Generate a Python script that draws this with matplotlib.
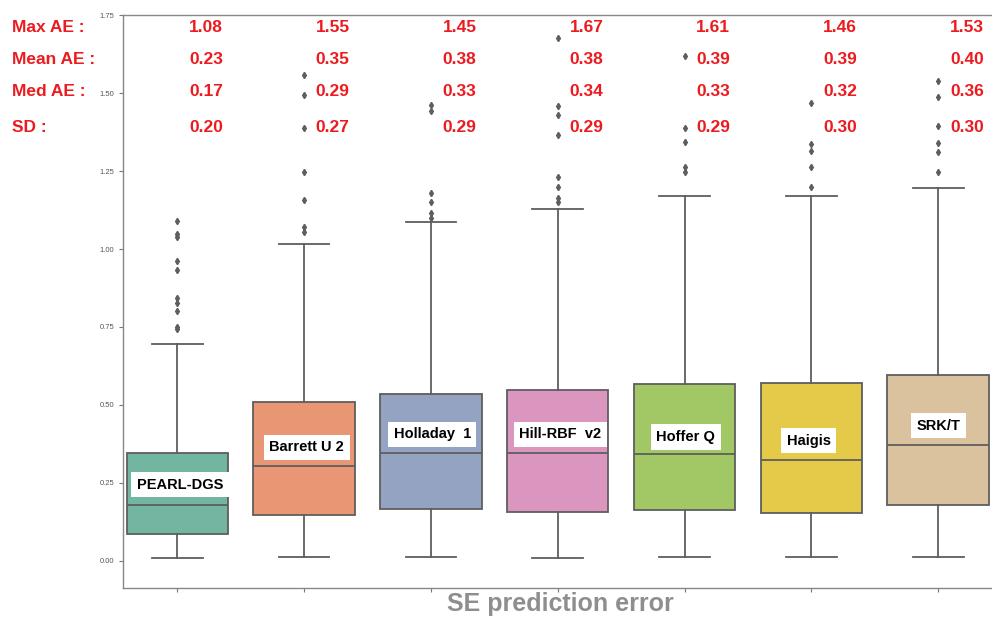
import matplotlib
matplotlib.use("Agg")
import matplotlib.pyplot as plt
import seaborn as sns

# formulas on the x axis
formulas = ["PEARL-DGS", "Barrett U 2", "Holladay  1", "Hill-RBF  v2", "Hoffer Q", "Haigis", "SRK/T"]

# box statistics
q1 = [0.087, 0.148, 0.167, 0.155, 0.161, 0.153, 0.177]
med = [0.178, 0.303, 0.344, 0.344, 0.342, 0.324, 0.371]
q3 = [0.345, 0.509, 0.535, 0.548, 0.568, 0.570, 0.596]
whislo = [0.008, 0.011, 0.011, 0.008, 0.011, 0.011, 0.013]
whishi = [0.695, 1.018, 1.087, 1.129, 1.172, 1.170, 1.196]
fliers = [
  [1.09, 1.05, 1.04, 0.963, 0.934, 0.843, 0.827, 0.80, 0.75, 0.745],
  [1.56, 1.494, 1.389, 1.248, 1.157, 1.07, 1.056],
  [1.464, 1.443, 1.179, 1.15, 1.115, 1.099],
  [1.678, 1.459, 1.43, 1.365, 1.23, 1.20, 1.165, 1.15],
  [1.62, 1.389, 1.344, 1.262, 1.249],
  [1.469, 1.338, 1.316, 1.265, 1.198],
  [1.539, 1.488, 1.394, 1.34, 1.311, 1.247],
]

# summary numbers printed in red
stat_names = ["Max AE :", "Mean AE :", "Med AE :", "SD :"]
max_ae = [1.08, 1.55, 1.45, 1.67, 1.61, 1.46, 1.53]
mean_ae = [0.23, 0.35, 0.38, 0.38, 0.39, 0.39, 0.40]
med_ae = [0.17, 0.29, 0.33, 0.34, 0.33, 0.32, 0.36]
sd = [0.20, 0.27, 0.29, 0.29, 0.29, 0.30, 0.30]

# where the name boxes sit (y in data units)
label_y = [0.244, 0.364, 0.406, 0.406, 0.397, 0.385, 0.433]
label_dx = [0.02, 0.02, 0.01, 0.02, 0.01, -0.02, 0.0]

plt.rcParams['font.family'] = ['Liberation Sans', 'DejaVu Sans']

fig = plt.figure(figsize=(9.92, 6.19), dpi=100)
ax = fig.add_axes([0.1237, 0.050, 0.877, 0.925])

colors = [sns.desaturate(c, 0.75) for c in sns.color_palette("Set2", len(formulas))]
line_col = "#5e5e5e"
red = "#ec1b1f"

stats = []
for i, name in enumerate(formulas):
  stats.append(dict(label=name, q1=q1[i], med=med[i], q3=q3[i],
                    whislo=whislo[i], whishi=whishi[i], fliers=fliers[i]))

bp = ax.bxp(stats, positions=range(len(formulas)), widths=0.8, capwidths=0.4,
            patch_artist=True, showfliers=True,
            boxprops=dict(edgecolor=line_col, linewidth=1.3),
            medianprops=dict(color=line_col, linewidth=1.3),
            whiskerprops=dict(color=line_col, linewidth=1.3),
            capprops=dict(color=line_col, linewidth=1.3),
            flierprops=dict(marker="d", markersize=3.2, markerfacecolor=line_col,
                            markeredgecolor=line_col, linestyle="none"))
for patch, c in zip(bp["boxes"], colors):
  patch.set_facecolor(c)

ax.set_xlim(-0.43, 6.43)
ax.set_ylim(-0.088, 1.75)
ax.set_yticks([0.0, 0.25, 0.5, 0.75, 1.0, 1.25, 1.5, 1.75])
ax.set_yticklabels(["0.00", "0.25", "0.50", "0.75", "1.00", "1.25", "1.50", "1.75"])
ax.set_xticks(range(len(formulas)))
ax.set_xticklabels([])
ax.tick_params(axis="y", labelsize=5.5, labelcolor="#555555", color="#777777", length=3, pad=3)
ax.tick_params(axis="x", color="#777777", length=3)
for s in ["left", "bottom", "top"]:
  ax.spines[s].set_color("#888888")
  ax.spines[s].set_linewidth(1.0)
ax.spines["right"].set_visible(False)

# name boxes inside each box
for i, name in enumerate(formulas):
  ax.text(i + label_dx[i], label_y[i], name, ha="center", va="center",
          fontsize=10.5, fontweight="bold", color="black",
          bbox=dict(facecolor="white", edgecolor="none", pad=4))

# red summary table
rows = [max_ae, mean_ae, med_ae, sd]
row_px = [28, 59, 92, 127]
for r, (title, vals) in enumerate(zip(stat_names, rows)):
  yfig = 1 - row_px[r] / 619
  fig.text(12 / 992, yfig, title, ha="left", va="center", fontsize=12.5,
           fontweight="bold", color=red)
  for i, v in enumerate(vals):
    x_disp = ax.transData.transform((i + 0.36, 0))[0]
    fig.text(x_disp / (fig.dpi * fig.get_figwidth()), yfig, f"{v:.2f}", ha="right", va="center",
             fontsize=12.5, fontweight="bold", color=red)

fig.text(560 / 992, 1 - 604 / 619, "SE prediction error", ha="center", va="center",
         fontsize=18, fontweight="bold", color="#8e8e8e")

fig.savefig("out.png", dpi=100)
